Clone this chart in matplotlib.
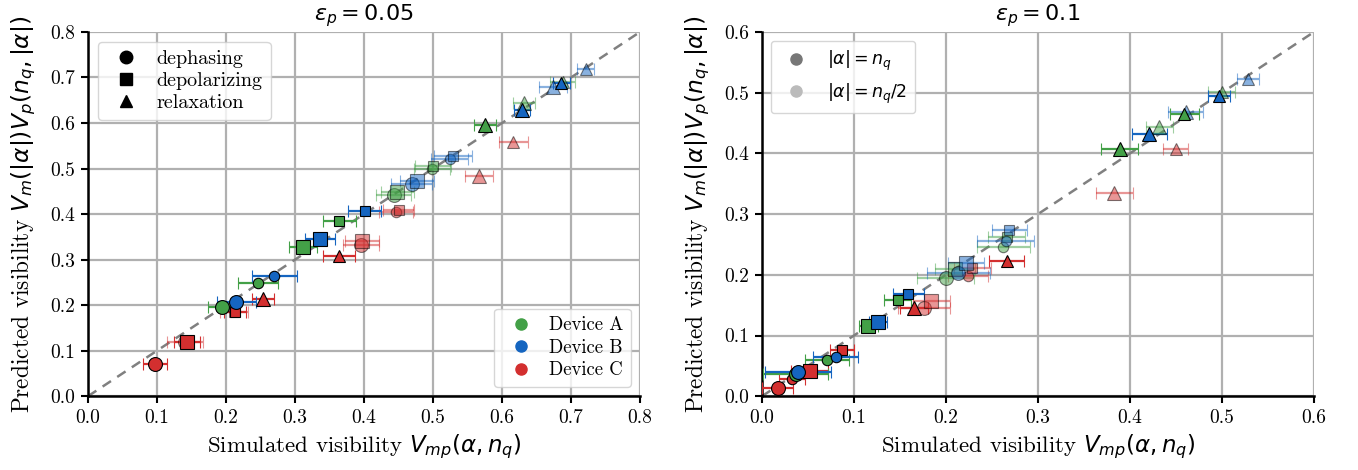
import matplotlib
matplotlib.use("Agg")
import matplotlib.pyplot as plt
from matplotlib.lines import Line2D

plt.rcParams["font.family"] = "serif"
plt.rcParams["font.serif"] = ["cmr10", "DejaVu Serif"]
plt.rcParams["mathtext.fontset"] = "dejavusans"
plt.rcParams["axes.formatter.use_mathtext"] = True

# ---- data: eps_p = 0.05 ----
p1_device = ["C", "C", "C", "C", "C",
             "C", "C", "C", "C", "C", "C", "C", "C",
             "A", "A", "A", "A", "A",
             "A", "A", "A", "A", "A", "A",
             "B", "B", "B", "B", "B", "B",
             "B", "B", "B", "B", "B", "B"]
p1_noise = ["dephasing", "depolarizing", "depolarizing", "relaxation", "relaxation",
            "dephasing", "depolarizing", "dephasing", "depolarizing", "dephasing", "depolarizing", "relaxation", "relaxation",
            "dephasing", "dephasing", "depolarizing", "depolarizing", "relaxation",
            "dephasing", "depolarizing", "dephasing", "depolarizing", "relaxation", "relaxation",
            "dephasing", "dephasing", "depolarizing", "depolarizing", "relaxation", "relaxation",
            "dephasing", "depolarizing", "dephasing", "depolarizing", "relaxation", "relaxation"]
p1_half = [0, 0, 0, 0, 0,
           1, 1, 1, 1, 1, 1, 1, 1,
           0, 0, 0, 0, 0,
           1, 1, 1, 1, 1, 1,
           0, 0, 0, 0, 0, 0,
           1, 1, 1, 1, 1, 1]
p1_big = [1, 1, 0, 1, 0,
          1, 0, 1, 1, 0, 0, 1, 0,
          1, 0, 1, 0, 1,
          1, 1, 0, 0, 1, 0,
          1, 0, 1, 0, 1, 0,
          1, 1, 0, 0, 1, 0]
p1_x = [0.097, 0.143, 0.213, 0.253, 0.364,
        0.140, 0.212, 0.395, 0.397, 0.446, 0.450, 0.567, 0.616,
        0.194, 0.247, 0.312, 0.364, 0.576,
        0.443, 0.448, 0.498, 0.500, 0.632, 0.688,
        0.215, 0.270, 0.336, 0.401, 0.629, 0.686,
        0.469, 0.477, 0.524, 0.529, 0.674, 0.721]
p1_y = [0.070, 0.118, 0.184, 0.213, 0.308,
        0.118, 0.185, 0.333, 0.341, 0.404, 0.410, 0.484, 0.558,
        0.196, 0.248, 0.327, 0.384, 0.596,
        0.442, 0.449, 0.498, 0.505, 0.645, 0.690,
        0.207, 0.264, 0.346, 0.407, 0.629, 0.687,
        0.466, 0.473, 0.520, 0.528, 0.680, 0.719]
p1_xerr = [0.017, 0.019, 0.016, 0.016, 0.023,
           0.026, 0.020, 0.026, 0.024, 0.025, 0.022, 0.020, 0.021,
           0.020, 0.029, 0.020, 0.024, 0.016,
           0.025, 0.024, 0.026, 0.026, 0.016, 0.018,
           0.028, 0.033, 0.022, 0.024, 0.012, 0.012,
           0.030, 0.025, 0.027, 0.027, 0.020, 0.013]

# ---- data: eps_p = 0.1 ----
p2_device = ["C"] * 12 + ["A"] * 12 + ["B"] * 12
p2_noise = ["dephasing", "dephasing", "depolarizing", "depolarizing", "relaxation", "relaxation",
            "dephasing", "depolarizing", "dephasing", "depolarizing", "relaxation", "relaxation"] * 3
p2_half = ([0] * 6 + [1] * 6) * 3
p2_big = [1, 0, 1, 0, 1, 0, 1, 1, 0, 0, 1, 0] * 3
p2_x = [0.017, 0.033, 0.052, 0.087, 0.1655, 0.266,
        0.176, 0.184, 0.224, 0.2286, 0.383, 0.4497,
        0.0366, 0.071, 0.1156, 0.1475, 0.389, 0.459,
        0.1996, 0.210, 0.2623, 0.266, 0.4319, 0.4997,
        0.039, 0.080, 0.1264, 0.159, 0.4207, 0.497,
        0.2134, 0.2217, 0.2652, 0.2688, 0.4605, 0.5286]
p2_y = [0.014, 0.029, 0.042, 0.076, 0.146, 0.2225,
        0.1445, 0.157, 0.198, 0.212, 0.334, 0.4066,
        0.037, 0.060, 0.1154, 0.158, 0.408, 0.465,
        0.194, 0.209, 0.245, 0.2616, 0.4439, 0.5005,
        0.040, 0.064, 0.122, 0.168, 0.4318, 0.495,
        0.203, 0.220, 0.256, 0.2736, 0.4676, 0.5225]
p2_xerr = [0.017, 0.014, 0.020, 0.013, 0.015, 0.019,
           0.028, 0.020, 0.022, 0.020, 0.020, 0.0136,
           0.035, 0.024, 0.010, 0.015, 0.020, 0.016,
           0.031, 0.022, 0.029, 0.020, 0.015, 0.0145,
           0.036, 0.024, 0.010, 0.017, 0.019, 0.012,
           0.034, 0.020, 0.031, 0.019, 0.019, 0.012]

devices = ["A", "B", "C"]
device_labels = ["Device A", "Device B", "Device C"]
device_colors = {"A": "#43a047", "B": "#1565c0", "C": "#d32f2f"}
noise_types = ["dephasing", "depolarizing", "relaxation"]
noise_markers = {"dephasing": "o", "depolarizing": "s", "relaxation": "^"}
titles = [r"$\varepsilon_p = 0.05$", r"$\varepsilon_p = 0.1$"]
limits = [0.8, 0.6]

fig = plt.figure(figsize=(13.58, 4.70), dpi=100)
ax1 = fig.add_axes([0.0648, 0.157, 0.4065, 0.775])
ax2 = fig.add_axes([0.5611, 0.157, 0.4065, 0.775])


def draw_panel(ax, dev, noise, half, big, xs, ys, xerr, lim, title):
    ax.set_axisbelow(True)
    ax.grid(True, color="#b0b0b0", linewidth=1.6)
    ax.plot([0, lim], [0, lim], ls=(0, (4, 3)), color="#808080", lw=1.8, zorder=1)
    order = sorted(range(len(xs)), key=lambda i: (-half[i], i))
    for i in order:
        a = 0.5 if half[i] else 1.0
        col = device_colors[dev[i]]
        ms = 10 if big[i] else 7.5
        if noise[i] == "relaxation":
            ms = 9.5 if big[i] else 8
        elif noise[i] == "depolarizing":
            ms -= 0.5
        ax.errorbar(xs[i], ys[i], xerr=xerr[i], fmt=noise_markers[noise[i]],
                    color=col, ecolor=col, elinewidth=1.6, capsize=4, capthick=1.4,
                    ms=ms, mfc=col, mec="black", mew=0.8, alpha=a, zorder=3)
    ax.set_xlim(0, lim)
    ax.set_ylim(0, lim)
    ticks = [round(0.1 * k, 1) for k in range(int(round(lim * 10)) + 1)]
    ax.set_xticks(ticks)
    ax.set_yticks(ticks)
    ax.set_xticklabels([f"{t:.1f}" for t in ticks])
    ax.set_yticklabels([f"{t:.1f}" for t in ticks])
    ax.tick_params(labelsize=14, width=1.5, length=5, color="black", pad=4)
    for s in ["top", "right"]:
        ax.spines[s].set_visible(False)
    for s in ["left", "bottom"]:
        ax.spines[s].set_linewidth(1.8)
        ax.spines[s].set_color("black")
    ax.set_title(title, fontsize=16, pad=8)
    ax.set_xlabel(r"Simulated visibility $V_{mp}(\alpha, n_q)$", fontsize=16.5, labelpad=4)
    ax.set_ylabel(r"Predicted visibility $V_m(|\alpha|)V_p(n_q, |\alpha|)$", fontsize=16.8, labelpad=9)


draw_panel(ax1, p1_device, p1_noise, p1_half, p1_big, p1_x, p1_y, p1_xerr, limits[0], titles[0])
draw_panel(ax2, p2_device, p2_noise, p2_half, p2_big, p2_x, p2_y, p2_xerr, limits[1], titles[1])

# legends
noise_handles = [Line2D([], [], ls="none", marker=noise_markers[n], color="black", ms=9)
                 for n in noise_types]
leg1 = ax1.legend(noise_handles, noise_types, loc="upper left", fontsize=14.5,
                  handletextpad=0.5, borderpad=0.4, labelspacing=0.2)
ax1.add_artist(leg1)
dev_handles = [Line2D([], [], ls="none", marker="o", color=device_colors[d], ms=8)
               for d in devices]
ax1.legend(dev_handles, device_labels, loc="lower right", fontsize=13.5,
           handletextpad=0.5, borderpad=0.4, labelspacing=0.25)

level_handles = [Line2D([], [], ls="none", marker="o", color="#777777", ms=8),
                 Line2D([], [], ls="none", marker="o", color="#bbbbbb", ms=8)]
ax2.legend(level_handles, [r"$|\alpha| = n_q$", r"$|\alpha| = n_q/2$"], loc="upper left",
           fontsize=12.5, handletextpad=0.8, borderpad=0.45, labelspacing=0.5)

fig.savefig("out.png", dpi=100)
